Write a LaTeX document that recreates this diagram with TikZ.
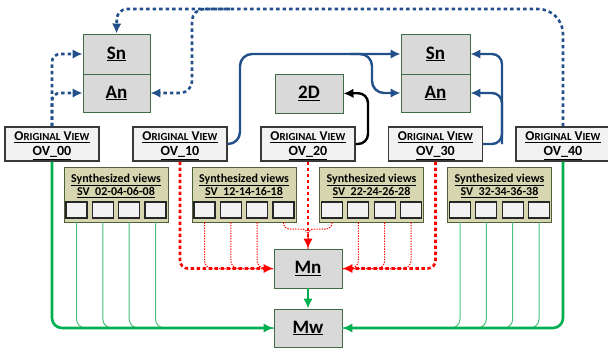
\documentclass[tikz,border=0pt]{standalone}
\usepackage{fontspec}
\setmainfont{Carlito}
\usetikzlibrary{arrows.meta}
\definecolor{boxgray}{HTML}{D9D9D9}
\definecolor{gborder}{HTML}{3F6B45}
\definecolor{ovfill}{HTML}{F2F2F2}
\definecolor{ovborder}{HTML}{3A3A3A}
\definecolor{synfill}{HTML}{D6D6B0}
\definecolor{synborder}{HTML}{4F5F3A}
\definecolor{myblue}{HTML}{23508A}
\definecolor{myred}{HTML}{FF0000}
\definecolor{mygreen}{HTML}{00B050}
\definecolor{lgreen}{HTML}{4CC07E}
\newcommand\ovhead{\underline{\fontsize{13.5}{14}\selectfont O\fontsize{10.8}{14}\selectfont RIGINAL\fontsize{13.5}{14}\selectfont{} V\fontsize{10.8}{14}\selectfont IEW}}
\begin{document}
\begin{tikzpicture}[x=1pt,y=-1pt,
  gbox/.style={draw=gborder, fill=boxgray, line width=0.9pt, minimum width=68pt, minimum height=39pt, inner sep=0pt, font=\fontsize{19}{19}\selectfont\bfseries},
  ovbox/.style={draw=ovborder, fill=ovfill, line width=1.3pt, minimum width=94pt, minimum height=34pt, inner sep=0pt},
  ovt/.style={inner sep=0pt, font=\bfseries},
  ovn/.style={inner sep=0pt, font=\fontsize{14}{15}\selectfont\bfseries},
  synbox/.style={draw=synborder, fill=synfill, line width=0.9pt, minimum width=104pt, minimum height=55pt, inner sep=0pt},
  syntxt/.style={inner sep=0pt, font=\fontsize{12}{13}\selectfont\bfseries},
  sbox/.style={draw=black!85, fill=ovfill, line width=1.2pt, minimum width=21pt, minimum height=16pt, inner sep=0pt},
  tip/.style={-{Latex[length=10pt,width=9.5pt]}},
  bluedash/.style={draw=myblue, line width=2.6pt, dash pattern=on 3.5pt off 3pt, tip},
  bluesolid/.style={draw=myblue, line width=2.4pt, tip},
  blacksolid/.style={draw=black, line width=2.4pt, tip},
  reddash/.style={draw=myred, line width=2.6pt, dash pattern=on 3.5pt off 2.5pt, tip},
  reddot/.style={draw=myred, line width=1pt, dash pattern=on 1.3pt off 1.3pt},
  greenthick/.style={draw=mygreen, line width=2.6pt, tip},
  greenthin/.style={draw=lgreen, line width=1pt}
]
\useasboundingbox (0,0) rectangle (608,354);

% gray boxes
\node[gbox, minimum width=67pt, minimum height=40pt] (lSn) at (116.5,54) {\underline{Sn}};
\node[gbox, minimum width=67pt, minimum height=38pt] (lAn) at (116.5,93) {\underline{An}};
\node[gbox, minimum width=69pt, minimum height=40pt] (rSn) at (435.5,54) {\underline{Sn}};
\node[gbox, minimum width=69pt, minimum height=38pt] (rAn) at (435.5,93) {\underline{An}};
\node[gbox] (d2) at (309,93.5) {\underline{2D}};
\node[gbox] (mn) at (308,268.5) {\underline{Mn}};
\node[gbox, minimum height=38pt] (mw) at (308,328) {\underline{Mw}};

% original views
\foreach \n/\x in {00/52, 10/180, 20/308, 30/435.5, 40/563}{
  \node[ovbox] (ov\n) at (\x,144) {};
  \node[ovt] (ov\n t) at (\x,137) {\ovhead};
  \node[ovn] (ov\n n) at (\x,153) {\underline{OV\_\n}};
}

% synthesized views
\foreach \n/\x/\t in {02/116/02-04-06-08, 12/244/12-14-16-18, 22/371.5/22-24-26-28, 32/499.5/32-34-36-38}{
  \node[synbox] (sv\n) at (\x,194.5) {};
  \node[syntxt] (svt\n) at (\x,180) {\underline{Synthesized views}};
  \node[syntxt] (svn\n) at (\x,192.5) {\underline{SV\ \ \t}};
  \node[sbox] (s\n a) at (\x-39.5,210) {};
  \node[sbox] (s\n b) at (\x-13.2,210) {};
  \node[sbox] (s\n c) at (\x+13.2,210) {};
  \node[sbox] (s\n d) at (\x+39.5,210) {};
}

% coordinates
\coordinate (topL) at (117,9);
\coordinate (topR) at (563,9);
\coordinate (brA) at (192,9);
\coordinate (brB) at (230,9);
\coordinate (b10a) at (240,144);
\coordinate (b10b) at (240,54);
\coordinate (b10c) at (350,54);
\coordinate (b10d) at (372,54);
\coordinate (b10e) at (372,93);
\coordinate (b30a) at (502,144);
\coordinate (b30b) at (502,54);
\coordinate (b30c) at (502,93);
\coordinate (b20a) at (368,144);
\coordinate (b20b) at (368,93);
\coordinate (rjL) at (308,229);

% blue dashed
\draw[bluedash, rounded corners=8pt] (ov00.north) |- (lSn.west);
\draw[bluedash, rounded corners=8pt] (ov00.north) |- (lAn.west);
\draw[bluedash, rounded corners=25pt] (ov40.north) -- (topR) [rounded corners=10pt] -- (topL) -- (lSn.north);
\draw[bluedash, rounded corners=12pt] (brB) -- (brA) |- (lAn.east);

% blue solid
\draw[bluesolid, rounded corners=12pt] (ov10.east) -- (b10a) -- (b10b) -- (rSn.west);
\draw[bluesolid, rounded corners=12pt] (b10c) -- (b10d) -- (b10e) -- (rAn.west);
\draw[bluesolid, rounded corners=10pt] (ov30.east) -- (b30a) -- (b30b) -- (rSn.east);
\draw[bluesolid, rounded corners=10pt] (b30a) -- (b30c) -- (rAn.east);

% black
\draw[blacksolid, rounded corners=10pt] (ov20.east) -- (b20a) -- (b20b) -- (d2.east);

% red dotted
\foreach \s in {12a,12b,12c}{
  \draw[reddot, rounded corners=8pt] (s\s |- sv12.south) |- (mn.west);
}
\foreach \s in {22b,22c,22d}{
  \draw[reddot, rounded corners=8pt] (s\s |- sv22.south) |- (mn.east);
}
\draw[reddot, rounded corners=6pt] (s12d |- sv12.south) |- (rjL) -- (mn.north);
\draw[reddot, rounded corners=6pt] (s22a |- sv22.south) |- (rjL) -- (mn.north);

% red dashed
\draw[reddash, rounded corners=8pt] (ov10.south) |- (mn.west);
\draw[reddash] (ov20.south) -- (mn.north);
\draw[reddash, rounded corners=8pt] (ov30.south) |- (mn.east);

% green thin
\foreach \s in {02a,02b,02c,02d}{
  \draw[greenthin, rounded corners=9pt] (s\s |- sv02.south) |- (mw.west);
}
\foreach \s in {32a,32b,32c,32d}{
  \draw[greenthin, rounded corners=9pt] (s\s |- sv32.south) |- (mw.east);
}
% green thick
\draw[greenthick, rounded corners=10pt] (ov00.south) |- (mw.west);
\draw[greenthick, rounded corners=10pt] (ov40.south) |- (mw.east);
\draw[greenthick] (mn.south) -- (mw.north);
\end{tikzpicture}
\end{document}
